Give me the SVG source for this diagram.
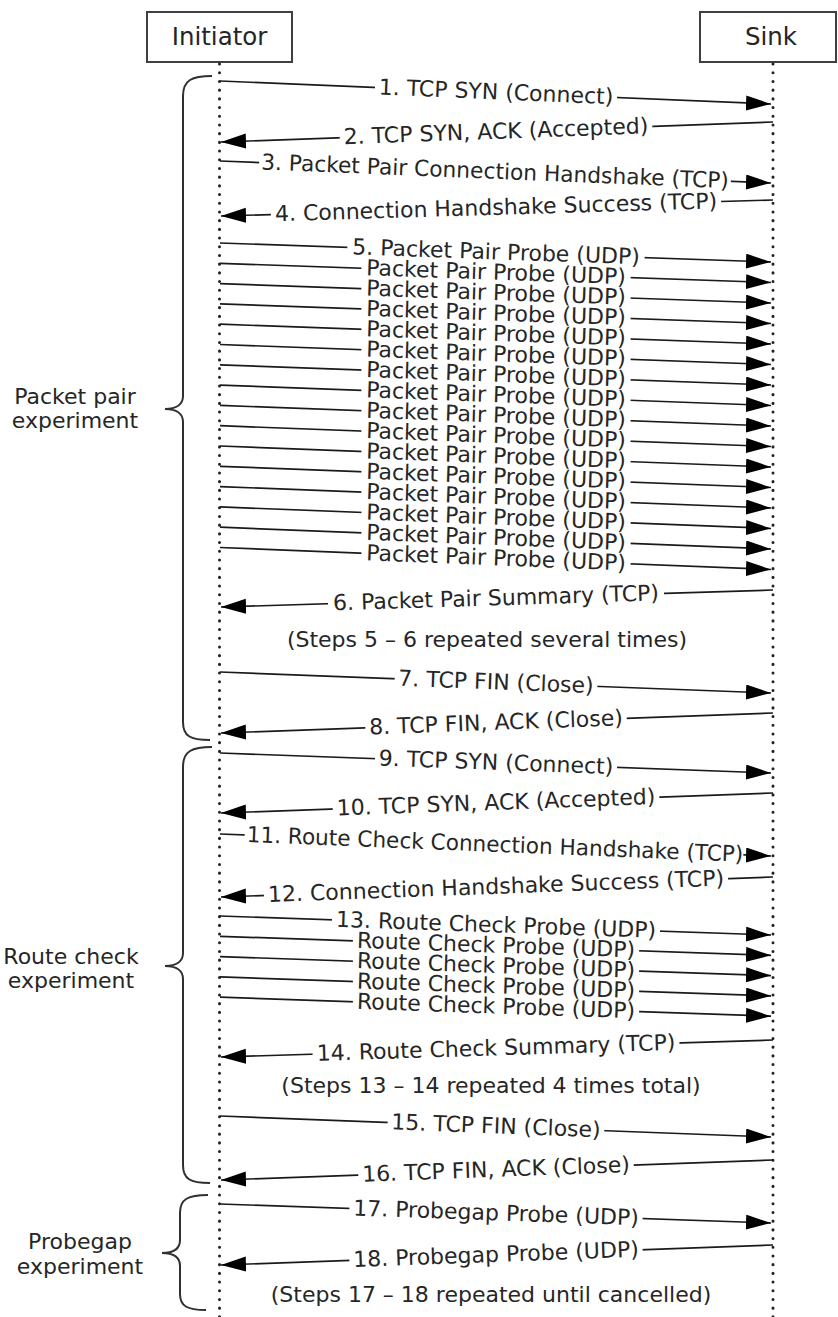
<svg xmlns="http://www.w3.org/2000/svg" width="838" height="1317" viewBox="0 0 838 1317">
<style>
.box{fill:#fff;stroke:#404040;stroke-width:2}
.hdr{font-family:"DejaVu Sans",Verdana,sans-serif;font-size:24.5px;fill:#262626;text-anchor:middle}
.life{stroke:#222;stroke-width:3;stroke-dasharray:0.1 8.6;stroke-linecap:round;fill:none}
.msg{stroke:#1a1a1a;stroke-width:1.7;fill:none;marker-end:url(#ah)}
.gap{fill:#fff}
.lbl{font-family:"DejaVu Sans",Verdana,sans-serif;font-size:22px;fill:#262626;text-anchor:middle}
.brace{stroke:#303030;stroke-width:2;fill:none}
</style>
<defs>
<marker id="ah" markerUnits="userSpaceOnUse" markerWidth="26" markerHeight="16" refX="25" refY="7.5" orient="auto"><path d="M0,0 L25,7.5 L0,15 Z" fill="#000"/></marker>
</defs>
<rect width="838" height="1317" fill="#fff"/>
<g id="initiator">
<rect class="box" x="147" y="12" width="145" height="50"/>
<text class="hdr" x="219.5" y="45">Initiator</text>
<line class="life" x1="219.5" y1="64" x2="219.5" y2="1317"/>
</g>
<g id="sink">
<rect class="box" x="700" y="12" width="136" height="50"/>
<text class="hdr" x="771" y="45">Sink</text>
<line class="life" x1="773" y1="64" x2="773" y2="1317"/>
</g>
<g id="packet-pair-experiment">
<path class="brace" d="M212,76 C192,76 183,80 183,96 L183,396 C183,404 177,409 165,409 C177,409 183,414 183,422 L183,722 C183,736 190,740 210,740"/>
<text class="lbl" x="75" y="404">Packet pair</text>
<text class="lbl" x="75" y="428">experiment</text>
</g>
<g id="route-check-experiment">
<path class="brace" d="M212,747 C192,747 183,751 183,767 L183,953 C183,961 177,966 165,966 C177,966 183,971 183,979 L183,1165 C183,1179 190,1183 210,1183"/>
<text class="lbl" x="71" y="964">Route check</text>
<text class="lbl" x="71" y="988">experiment</text>
</g>
<g id="probegap-experiment">
<path class="brace" d="M208,1195 C188,1195 180,1199 180,1213 L180,1240 C180,1248 174,1253 162,1253 C174,1253 180,1258 180,1266 L180,1294 C180,1306 187,1310 206,1310"/>
<text class="lbl" x="80" y="1249">Probegap</text>
<text class="lbl" x="80" y="1274">experiment</text>
</g>
<g id="notes">
<text class="lbl" x="487" y="647">(Steps 5 – 6 repeated several times)</text>
<text class="lbl" x="491" y="1093">(Steps 13 – 14 repeated 4 times total)</text>
<text class="lbl" x="491" y="1302">(Steps 17 – 18 repeated until cancelled)</text>
</g>
<g id="connectors">
<path class="msg" d="M220,81 L771,104"/>
<g transform="translate(496,92.5) rotate(2.38)"><rect class="gap" x="-121.1" y="-3" width="242.2" height="6"/><text class="lbl" y="6.8">1. TCP SYN (Connect)</text></g>
<path class="msg" d="M773,122 L221,142"/>
<g transform="translate(496,132) rotate(-2.07)"><rect class="gap" x="-156.4" y="-3" width="312.8" height="6"/><text class="lbl" y="6.8">2. TCP SYN, ACK (Accepted)</text></g>
<path class="msg" d="M220,161 L771,183"/>
<g transform="translate(495,172) rotate(2.28)"><rect class="gap" x="-236" y="-3" width="472" height="6"/><text class="lbl" y="6.8" textLength="468" lengthAdjust="spacingAndGlyphs">3. Packet Pair Connection Handshake (TCP)</text></g>
<path class="msg" d="M773,200 L221,216"/>
<g transform="translate(496,208) rotate(-1.66)"><rect class="gap" x="-225.2" y="-3" width="450.4" height="6"/><text class="lbl" y="6.8">4. Connection Handshake Success (TCP)</text></g>
<path class="msg" d="M220,243 L771,262"/>
<g transform="translate(496,252.5) rotate(1.97)"><rect class="gap" x="-148.7" y="-3" width="297.4" height="6"/><text class="lbl" y="6.8">5. Packet Pair Probe (UDP)</text></g>
<path class="msg" d="M220,263.3 L771,282.5"/>
<g transform="translate(496,272.9) rotate(1.99)"><rect class="gap" x="-134.7" y="-3" width="269.4" height="6"/><text class="lbl" y="6.8">Packet Pair Probe (UDP)</text></g>
<path class="msg" d="M220,283.6 L771,303"/>
<g transform="translate(496,293.3) rotate(2.01)"><rect class="gap" x="-134.7" y="-3" width="269.4" height="6"/><text class="lbl" y="6.8">Packet Pair Probe (UDP)</text></g>
<path class="msg" d="M220,303.9 L771,323.5"/>
<g transform="translate(496,313.7) rotate(2.03)"><rect class="gap" x="-134.7" y="-3" width="269.4" height="6"/><text class="lbl" y="6.8">Packet Pair Probe (UDP)</text></g>
<path class="msg" d="M220,324.2 L771,344"/>
<g transform="translate(496,334.1) rotate(2.05)"><rect class="gap" x="-134.7" y="-3" width="269.4" height="6"/><text class="lbl" y="6.8">Packet Pair Probe (UDP)</text></g>
<path class="msg" d="M220,344.5 L771,364.5"/>
<g transform="translate(496,354.5) rotate(2.07)"><rect class="gap" x="-134.7" y="-3" width="269.4" height="6"/><text class="lbl" y="6.8">Packet Pair Probe (UDP)</text></g>
<path class="msg" d="M220,364.8 L771,385"/>
<g transform="translate(496,374.9) rotate(2.09)"><rect class="gap" x="-134.7" y="-3" width="269.4" height="6"/><text class="lbl" y="6.8">Packet Pair Probe (UDP)</text></g>
<path class="msg" d="M220,385.1 L771,405.5"/>
<g transform="translate(496,395.3) rotate(2.11)"><rect class="gap" x="-134.7" y="-3" width="269.4" height="6"/><text class="lbl" y="6.8">Packet Pair Probe (UDP)</text></g>
<path class="msg" d="M220,405.4 L771,426"/>
<g transform="translate(496,415.7) rotate(2.13)"><rect class="gap" x="-134.7" y="-3" width="269.4" height="6"/><text class="lbl" y="6.8">Packet Pair Probe (UDP)</text></g>
<path class="msg" d="M220,425.7 L771,446.5"/>
<g transform="translate(496,436.1) rotate(2.15)"><rect class="gap" x="-134.7" y="-3" width="269.4" height="6"/><text class="lbl" y="6.8">Packet Pair Probe (UDP)</text></g>
<path class="msg" d="M220,446 L771,467"/>
<g transform="translate(496,456.5) rotate(2.17)"><rect class="gap" x="-134.7" y="-3" width="269.4" height="6"/><text class="lbl" y="6.8">Packet Pair Probe (UDP)</text></g>
<path class="msg" d="M220,466.3 L771,487.5"/>
<g transform="translate(496,476.9) rotate(2.2)"><rect class="gap" x="-134.7" y="-3" width="269.4" height="6"/><text class="lbl" y="6.8">Packet Pair Probe (UDP)</text></g>
<path class="msg" d="M220,486.6 L771,508"/>
<g transform="translate(496,497.3) rotate(2.22)"><rect class="gap" x="-134.7" y="-3" width="269.4" height="6"/><text class="lbl" y="6.8">Packet Pair Probe (UDP)</text></g>
<path class="msg" d="M220,506.9 L771,528.5"/>
<g transform="translate(496,517.7) rotate(2.24)"><rect class="gap" x="-134.7" y="-3" width="269.4" height="6"/><text class="lbl" y="6.8">Packet Pair Probe (UDP)</text></g>
<path class="msg" d="M220,527.2 L771,549"/>
<g transform="translate(496,538.1) rotate(2.26)"><rect class="gap" x="-134.7" y="-3" width="269.4" height="6"/><text class="lbl" y="6.8">Packet Pair Probe (UDP)</text></g>
<path class="msg" d="M220,547.5 L771,569.5"/>
<g transform="translate(496,558.5) rotate(2.28)"><rect class="gap" x="-134.7" y="-3" width="269.4" height="6"/><text class="lbl" y="6.8">Packet Pair Probe (UDP)</text></g>
<path class="msg" d="M773,590 L221,607"/>
<g transform="translate(496,598.5) rotate(-1.76)"><rect class="gap" x="-168.1" y="-3" width="336.2" height="6"/><text class="lbl" y="6.8">6. Packet Pair Summary (TCP)</text></g>
<path class="msg" d="M220,672 L771,693"/>
<g transform="translate(496,682.5) rotate(2.17)"><rect class="gap" x="-101.4" y="-3" width="202.8" height="6"/><text class="lbl" y="6.8">7. TCP FIN (Close)</text></g>
<path class="msg" d="M773,713 L221,733"/>
<g transform="translate(496,723) rotate(-2.07)"><rect class="gap" x="-130.8" y="-3" width="261.6" height="6"/><text class="lbl" y="6.8">8. TCP FIN, ACK (Close)</text></g>
<path class="msg" d="M220,753 L771,773"/>
<g transform="translate(496,763) rotate(2.07)"><rect class="gap" x="-121.1" y="-3" width="242.2" height="6"/><text class="lbl" y="6.8">9. TCP SYN (Connect)</text></g>
<path class="msg" d="M773,793 L221,813"/>
<g transform="translate(496,803) rotate(-2.07)"><rect class="gap" x="-163.4" y="-3" width="326.8" height="6"/><text class="lbl" y="6.8">10. TCP SYN, ACK (Accepted)</text></g>
<path class="msg" d="M220,834 L771,856"/>
<g transform="translate(495,845) rotate(2.28)"><rect class="gap" x="-250.5" y="-3" width="499" height="6"/><text class="lbl" y="6.8" textLength="497" lengthAdjust="spacingAndGlyphs">11. Route Check Connection Handshake (TCP)</text></g>
<path class="msg" d="M773,877 L221,897"/>
<g transform="translate(496,887) rotate(-2.07)"><rect class="gap" x="-232.2" y="-3" width="464.4" height="6"/><text class="lbl" y="6.8">12. Connection Handshake Success (TCP)</text></g>
<path class="msg" d="M220,916 L771,935"/>
<g transform="translate(496,925.5) rotate(1.97)"><rect class="gap" x="-164.1" y="-3" width="328.2" height="6"/><text class="lbl" y="6.8">13. Route Check Probe (UDP)</text></g>
<path class="msg" d="M220,936.3 L771,955.3"/>
<g transform="translate(496,945.8) rotate(1.97)"><rect class="gap" x="-143.2" y="-3" width="286.4" height="6"/><text class="lbl" y="6.8">Route Check Probe (UDP)</text></g>
<path class="msg" d="M220,956.6 L771,975.6"/>
<g transform="translate(496,966.1) rotate(1.97)"><rect class="gap" x="-143.2" y="-3" width="286.4" height="6"/><text class="lbl" y="6.8">Route Check Probe (UDP)</text></g>
<path class="msg" d="M220,976.9 L771,995.9"/>
<g transform="translate(496,986.4) rotate(1.97)"><rect class="gap" x="-143.2" y="-3" width="286.4" height="6"/><text class="lbl" y="6.8">Route Check Probe (UDP)</text></g>
<path class="msg" d="M220,997.2 L771,1016.2"/>
<g transform="translate(496,1006.7) rotate(1.97)"><rect class="gap" x="-143.2" y="-3" width="286.4" height="6"/><text class="lbl" y="6.8">Route Check Probe (UDP)</text></g>
<path class="msg" d="M773,1040 L221,1057"/>
<g transform="translate(496,1048.5) rotate(-1.76)"><rect class="gap" x="-183.5" y="-3" width="367" height="6"/><text class="lbl" y="6.8">14. Route Check Summary (TCP)</text></g>
<path class="msg" d="M220,1116 L771,1137"/>
<g transform="translate(496,1126.5) rotate(2.17)"><rect class="gap" x="-108.4" y="-3" width="216.8" height="6"/><text class="lbl" y="6.8">15. TCP FIN (Close)</text></g>
<path class="msg" d="M773,1160 L221,1180"/>
<g transform="translate(496,1170) rotate(-2.07)"><rect class="gap" x="-137.8" y="-3" width="275.6" height="6"/><text class="lbl" y="6.8">16. TCP FIN, ACK (Close)</text></g>
<path class="msg" d="M220,1204 L771,1223"/>
<g transform="translate(496,1213.5) rotate(1.97)"><rect class="gap" x="-146.7" y="-3" width="293.4" height="6"/><text class="lbl" y="6.8">17. Probegap Probe (UDP)</text></g>
<path class="msg" d="M773,1245 L221,1265"/>
<g transform="translate(496,1255) rotate(-2.07)"><rect class="gap" x="-146.7" y="-3" width="293.4" height="6"/><text class="lbl" y="6.8">18. Probegap Probe (UDP)</text></g>
</g>
</svg>
